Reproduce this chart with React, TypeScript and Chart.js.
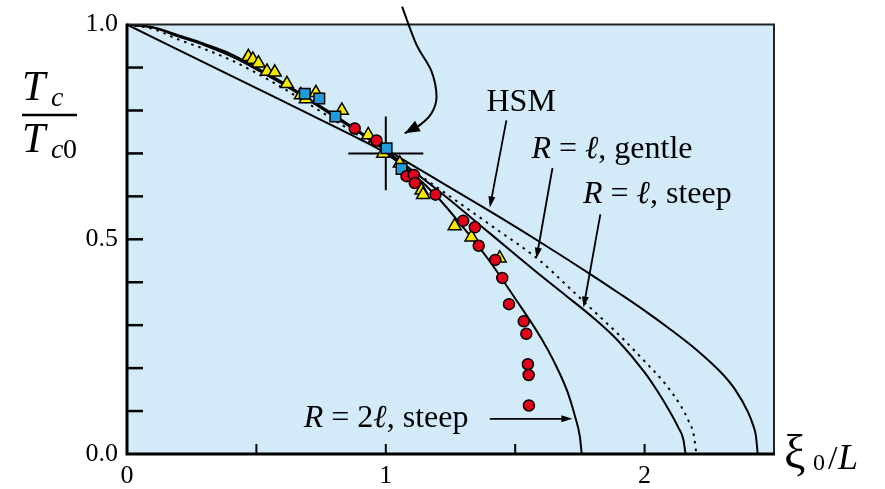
import React, { useEffect, useRef } from 'react';
import { Chart, registerables } from 'chart.js';

Chart.register(...registerables);

// ---------------- data ----------------
const X_MIN = 0;
const X_MAX = 2.5;
const Y_MIN = 0;
const Y_MAX = 1;

const xLabeledTicks = [0, 1, 2];
const yLabeledTicks = [0, 0.5, 1.0];
const xMinorTicks = [0.5, 1, 1.5, 2];
const yMinorTicks = [0.1, 0.2, 0.3, 0.4, 0.5, 0.6, 0.7, 0.8, 0.9];

// HSM curve
const hsmX = [0, 0.1, 0.2, 0.3, 0.4, 0.5, 0.6, 0.7, 0.8, 0.9, 1.0, 1.2, 1.4, 1.6, 1.8, 1.9, 2.0, 2.1, 2.2, 2.3, 2.35, 2.4, 2.42, 2.43, 2.437];
const hsmY = [1.0, 0.994, 0.975, 0.955, 0.932, 0.9, 0.866, 0.828, 0.79, 0.75, 0.71, 0.638, 0.566, 0.492, 0.415, 0.375, 0.334, 0.29, 0.243, 0.187, 0.15, 0.097, 0.066, 0.043, 0];

// R = l, steep (solid)
const steepX = [0, 0.1, 0.2, 0.3, 0.4, 0.5, 0.6, 0.7, 0.8, 0.9, 1.0, 1.2, 1.4, 1.6, 1.7, 1.8, 1.9, 2.0, 2.05, 2.1, 2.13, 2.15, 2.158];
const steepY = [1.0, 0.993, 0.972, 0.952, 0.927, 0.896, 0.862, 0.825, 0.786, 0.747, 0.706, 0.615, 0.515, 0.415, 0.367, 0.318, 0.262, 0.19, 0.146, 0.096, 0.062, 0.033, 0];

// R = l, gentle (dotted)
const gentleX = [0, 0.1, 0.2, 0.3, 0.4, 0.5, 0.6, 0.7, 0.8, 0.9, 1.0, 1.2, 1.4, 1.6, 1.7, 1.8, 1.9, 2.0, 2.08, 2.14, 2.17, 2.19, 2.2];
const gentleY = [1.0, 0.99, 0.965, 0.943, 0.918, 0.887, 0.853, 0.816, 0.778, 0.74, 0.702, 0.62, 0.535, 0.448, 0.392, 0.335, 0.278, 0.216, 0.163, 0.112, 0.077, 0.044, 0];

// R = 2l, steep
const twoX = [0, 0.5, 0.8, 0.9, 1.0, 1.1, 1.2, 1.3, 1.4, 1.5, 1.6, 1.65, 1.7, 1.73, 1.75, 1.757];
const twoY = [1.0, 0.852, 0.763, 0.733, 0.70, 0.655, 0.598, 0.527, 0.45, 0.362, 0.27, 0.215, 0.148, 0.09, 0.04, 0];

// measured points
const triX = [0.469, 0.486, 0.508, 0.541, 0.571, 0.618, 0.672, 0.691, 0.730, 0.830, 0.932, 0.990, 1.054, 1.138, 1.144, 1.266, 1.331, 1.440];
const triY = [0.925, 0.919, 0.910, 0.891, 0.889, 0.862, 0.836, 0.827, 0.841, 0.800, 0.743, 0.700, 0.677, 0.614, 0.604, 0.531, 0.505, 0.456];

const sqX = [0.687, 0.743, 0.805, 1.003, 1.061];
const sqY = [0.839, 0.828, 0.786, 0.712, 0.664];

const circX = [0.880, 0.964, 1.080, 1.108, 1.112, 1.192, 1.299, 1.344, 1.359, 1.423, 1.450, 1.476, 1.533, 1.543, 1.549, 1.552, 1.553];
const circY = [0.758, 0.730, 0.647, 0.650, 0.631, 0.604, 0.543, 0.528, 0.485, 0.452, 0.410, 0.349, 0.309, 0.280, 0.209, 0.184, 0.113];

// cross (error bars)
const crossX = [1.0];
const crossY = [0.70];
const crossDX = [0.145];
const crossDY = [0.086];

// curved pointer (data units)
const pointerX = [1.063, 1.118, 1.176, 1.196, 1.176, 1.131, 1.073];
const pointerY = [1.042, 0.954, 0.892, 0.831, 0.793, 0.766, 0.747];

// ---------------- styles ----------------
const SERIF = '"Liberation Serif", "Times New Roman", "DejaVu Serif", serif';
const PLOT_BG = '#d3eaf9';
const RED = '#e2001a';
const YELLOW = '#f5e900';
const BLUE = '#1f9ddb';

type Seg = [string, string];

function drawSegs(ctx: CanvasRenderingContext2D, segs: Seg[], x: number, y: number) {
  let cx = x;
  for (const [t, f] of segs) {
    ctx.font = f;
    ctx.fillText(t, cx, y);
    cx += ctx.measureText(t).width;
  }
}

function arrowHead(ctx: CanvasRenderingContext2D, x0: number, y0: number, x1: number, y1: number, len: number, hw: number) {
  const a = Math.atan2(y1 - y0, x1 - x0);
  const bx = x1 - len * Math.cos(a);
  const by = y1 - len * Math.sin(a);
  ctx.beginPath();
  ctx.moveTo(x1, y1);
  ctx.lineTo(bx + hw * Math.sin(a), by - hw * Math.cos(a));
  ctx.lineTo(bx - hw * Math.sin(a), by + hw * Math.cos(a));
  ctx.closePath();
  ctx.fill();
}

function lineArrow(ctx: CanvasRenderingContext2D, x0: number, y0: number, x1: number, y1: number, len: number, hw: number, lw: number) {
  const a = Math.atan2(y1 - y0, x1 - x0);
  ctx.lineWidth = lw;
  ctx.beginPath();
  ctx.moveTo(x0, y0);
  ctx.lineTo(x1 - (len - 1) * Math.cos(a), y1 - (len - 1) * Math.sin(a));
  ctx.stroke();
  arrowHead(ctx, x0, y0, x1, y1, len, hw);
}

const labelArrows = [
  { from: [1.466, 0.777], to: [1.402, 0.574] },
  { from: [1.644, 0.666], to: [1.582, 0.455] },
  { from: [1.829, 0.558], to: [1.764, 0.341] },
  { from: [1.402, 0.082], to: [1.721, 0.082] },
];

const bgPlugin = {
  id: 'plotBg',
  beforeDraw(chart: any) {
    const { ctx, chartArea: a } = chart;
    ctx.save();
    ctx.fillStyle = PLOT_BG;
    ctx.fillRect(a.left, a.top, a.right - a.left, a.bottom - a.top);
    ctx.restore();
  },
};

const decorPlugin = {
  id: 'decor',
  afterDatasetsDraw(chart: any) {
    const { ctx, chartArea: a } = chart;
    const xs = chart.scales.x;
    const ys = chart.scales.y;
    const px = (v: number) => xs.getPixelForValue(v);
    const py = (v: number) => ys.getPixelForValue(v);
    ctx.save();
    ctx.strokeStyle = '#000';
    ctx.fillStyle = '#000';
    ctx.lineCap = 'butt';

    // frame
    ctx.lineWidth = 2;
    ctx.strokeStyle = '#222';
    ctx.beginPath();
    ctx.moveTo(a.left, a.top);
    ctx.lineTo(a.right, a.top);
    ctx.lineTo(a.right, a.bottom);
    ctx.stroke();
    ctx.strokeStyle = '#000';
    ctx.lineWidth = 3;
    ctx.beginPath();
    ctx.moveTo(a.left, a.top - 1);
    ctx.lineTo(a.left, a.bottom);
    ctx.lineTo(a.right + 1, a.bottom);
    ctx.stroke();

    // inward ticks
    ctx.lineWidth = 2.5;
    for (const v of yMinorTicks) {
      ctx.beginPath();
      ctx.moveTo(a.left, py(v));
      ctx.lineTo(a.left + 16, py(v));
      ctx.stroke();
    }
    ctx.lineWidth = 2;
    for (const v of xMinorTicks) {
      ctx.beginPath();
      ctx.moveTo(px(v), a.bottom);
      ctx.lineTo(px(v), a.bottom - 10);
      ctx.stroke();
    }

    // curved pointer arrow
    const pts = pointerX.map((x, i) => [px(x), py(pointerY[i])]);
    ctx.lineWidth = 2;
    ctx.beginPath();
    ctx.moveTo(pts[0][0], pts[0][1]);
    for (let i = 0; i < pts.length - 1; i++) {
      const p0 = pts[i - 1] || pts[i];
      const p1 = pts[i];
      const p2 = pts[i + 1];
      const p3 = pts[i + 2] || pts[i + 1];
      ctx.bezierCurveTo(
        p1[0] + (p2[0] - p0[0]) / 6, p1[1] + (p2[1] - p0[1]) / 6,
        p2[0] - (p3[0] - p1[0]) / 6, p2[1] - (p3[1] - p1[1]) / 6,
        p2[0], p2[1]
      );
    }
    ctx.stroke();
    const n = pts.length;
    arrowHead(ctx, pts[n - 2][0], pts[n - 2][1], pts[n - 1][0], pts[n - 1][1], 15, 6);

    // label arrows
    for (const la of labelArrows) {
      lineArrow(ctx, px(la.from[0]), py(la.from[1]), px(la.to[0]), py(la.to[1]), 11, 3.5, 1.8);
    }

    // labels
    ctx.textBaseline = 'alphabetic';
    ctx.textAlign = 'left';
    const up = `32px ${SERIF}`;
    const it = `italic 32px ${SERIF}`;
    drawSegs(ctx, [['HSM', up]], px(1.389), py(0.799));
    drawSegs(ctx, [['R', it], [' = ', up], ['\u2113', it], [', gentle', up]], px(1.5625), py(0.689));
    drawSegs(ctx, [['R', it], [' = ', up], ['\u2113', it], [', steep', up]], px(1.762), py(0.584));
    drawSegs(ctx, [['R', it], [' = 2', up], ['\u2113', it], [', steep', up]], px(0.683), py(0.062));

    // y-axis title (fraction)
    const L = a.left;
    ctx.font = `italic 42px ${SERIF}`;
    ctx.fillText('T', L - 105, 100);
    ctx.font = `italic 28px ${SERIF}`;
    ctx.fillText('c', L - 76, 106);
    ctx.lineWidth = 2.5;
    ctx.beginPath();
    ctx.moveTo(L - 105, 115);
    ctx.lineTo(L - 50, 115);
    ctx.stroke();
    ctx.font = `italic 42px ${SERIF}`;
    ctx.fillText('T', L - 105, 152);
    ctx.font = `italic 28px ${SERIF}`;
    ctx.fillText('c', L - 76, 158);
    ctx.font = `28px ${SERIF}`;
    ctx.fillText('0', L - 64, 158);

    // x-axis title
    const R = a.right;
    const B = a.bottom;
    ctx.font = `48px ${SERIF}`;
    ctx.fillText('\u03BE', R + 10, B + 14);
    ctx.font = `24px ${SERIF}`;
    ctx.fillText('0', R + 39, B + 16);
    ctx.font = `34px ${SERIF}`;
    ctx.fillText('/', R + 54, B + 15);
    ctx.font = `italic 36px ${SERIF}`;
    ctx.fillText('L', R + 64, B + 15);

    ctx.restore();
  },
};

const toPts = (xs: number[], ys: number[]) => xs.map((x, i) => ({ x, y: ys[i] }));

export default function App() {
  const ref = useRef<HTMLCanvasElement | null>(null);

  useEffect(() => {
    if (!ref.current) return;
    const curve = (data: any, dash: number[] = []) => ({
      data,
      showLine: true,
      pointRadius: 0,
      borderColor: '#000',
      borderWidth: 2,
      borderDash: dash,
      cubicInterpolationMode: 'monotone',
      fill: false,
    });
    const marker = (data: any, style: string, r: number, color: string) => ({
      data,
      showLine: false,
      pointStyle: style,
      pointRadius: r,
      pointBackgroundColor: color,
      pointBorderColor: '#000',
      pointBorderWidth: 1.5,
    });
    const cx = crossX[0], cy = crossY[0];
    const chart = new Chart(ref.current, {
      type: 'scatter',
      data: {
        datasets: [
          marker(toPts(circX, circY), 'circle', 5.5, RED),
          marker(toPts(sqX, sqY), 'rect', 7.5, BLUE),
          marker(toPts(triX, triY), 'triangle', 7.5, YELLOW),
          curve([{ x: cx - crossDX[0], y: cy }, { x: cx + crossDX[0], y: cy }]),
          curve([{ x: cx, y: cy - crossDY[0] }, { x: cx, y: cy + crossDY[0] }]),
          curve(toPts(hsmX, hsmY)),
          curve(toPts(steepX, steepY)),
          curve(toPts(gentleX, gentleY), [2.5, 5]),
          curve(toPts(twoX, twoY)),
        ] as any,
      },
      options: {
        animation: false,
        responsive: false,
        maintainAspectRatio: false,
        events: [],
        layout: { padding: { top: 20, right: 111, left: 0, bottom: 0 } },
        plugins: { legend: { display: false }, tooltip: { enabled: false } },
        scales: {
          x: {
            type: 'linear',
            min: X_MIN,
            max: X_MAX,
            afterFit: (s: any) => { s.height = 35; },
            grid: { display: false, drawTicks: false },
            border: { display: false },
            ticks: {
              stepSize: 0.5,
              padding: 7,
              color: '#000',
              maxRotation: 0,
              autoSkip: false,
              font: { family: SERIF, size: 26 },
              callback: (v: any) => (xLabeledTicks.some((t) => Math.abs(t - v) < 1e-6) ? String(Math.round(v)) : ''),
            },
          },
          y: {
            type: 'linear',
            min: Y_MIN,
            max: Y_MAX,
            afterFit: (s: any) => { s.width = 127; },
            grid: { display: false, drawTicks: false },
            border: { display: false },
            ticks: {
              stepSize: 0.1,
              padding: 9,
              color: '#000',
              autoSkip: false,
              font: { family: SERIF, size: 26 },
              callback: (v: any) => (yLabeledTicks.some((t) => Math.abs(t - v) < 1e-6) ? Number(v).toFixed(1) : ''),
            },
          },
        },
      } as any,
      plugins: [bgPlugin, decorPlugin],
    });
    return () => chart.destroy();
  }, []);

  return (
    <div style={{ position: 'absolute', left: 0, top: 0, width: 885, height: 489, background: '#fff' }}>
      <canvas ref={ref} width={885} height={489} style={{ width: 885, height: 489, display: 'block' }} />
    </div>
  );
}
